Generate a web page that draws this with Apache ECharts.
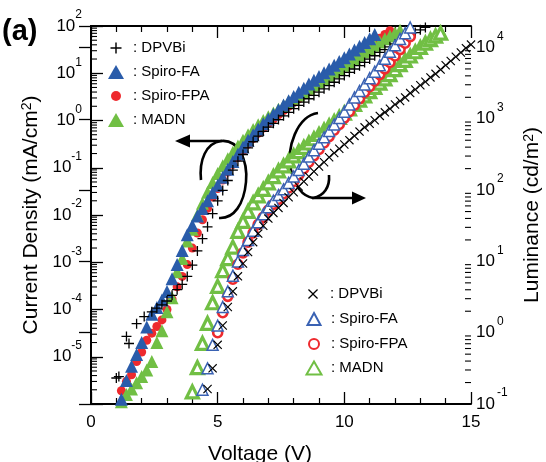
<!DOCTYPE html>
<html><head><meta charset="utf-8">
<script src="https://cdn.jsdelivr.net/npm/echarts@6/dist/echarts.min.js"></script>
<style>html,body{margin:0;padding:0;background:#fff}#c{width:546px;height:462px}</style>
</head><body><div id="c"></div>
<script>
// ---- data: [voltage (V), log10(value)] ----
// Current density (mA/cm^2), left axis
const J_DPVBi = [[1.0,-5.45],[1.1,-5.42],[1.4,-4.57],[1.5,-4.72],[1.8,-4.3],[2.1,-4.15],[2.4,-4.05],[2.6,-3.97],[2.8,-3.9],
 [3.0,-3.82],[3.2,-3.7],[3.4,-3.58],[3.6,-3.47],[3.8,-3.3],[4.0,-3.06],[4.2,-2.76],[4.4,-2.5],[4.6,-2.25],[4.8,-1.97],
 [5.0,-1.7],[5.2,-1.48],[5.4,-1.27],[5.6,-1.05],[5.8,-0.86],[6.0,-0.72],[6.2,-0.58],[6.4,-0.45],[6.6,-0.33],[6.8,-0.23],
 [7.0,-0.14],[7.2,-0.06],[7.4,0.02],[7.6,0.1],[7.8,0.17],[8.0,0.25],[8.2,0.32],[8.4,0.39],[8.6,0.46],[8.8,0.53],
 [9.0,0.6],[9.2,0.67],[9.4,0.74],[9.6,0.81],[9.8,0.88],[10.0,0.95],[10.2,1.02],[10.4,1.09],[10.6,1.16],[10.8,1.23],
 [11.0,1.3],[11.2,1.37],[11.4,1.44],[11.6,1.5],[11.8,1.56],[12.0,1.62],[12.2,1.68],[12.4,1.74],[12.6,1.8],[12.8,1.86],
 [13.0,1.92],[13.2,1.97]];
const J_SpiroFA = [[1.2,-5.9],[1.4,-5.5],[1.6,-5.2],[1.8,-4.95],[2.0,-4.7],[2.2,-4.37],[2.4,-4.1],[2.6,-3.96],[2.8,-3.8],
 [3.0,-3.62],[3.2,-3.35],[3.4,-3.05],[3.6,-2.75],[3.8,-2.42],[4.0,-2.22],[4.2,-2.02],[4.4,-1.86],[4.6,-1.7],[4.8,-1.53],
 [5.0,-1.37],[5.2,-1.2],[5.4,-1.03],[5.6,-0.87],[5.8,-0.71],[6.0,-0.56],[6.2,-0.42],[6.4,-0.3],[6.6,-0.18],[6.8,-0.07],
 [7.0,0.03],[7.2,0.13],[7.4,0.23],[7.6,0.33],[7.8,0.42],[8.0,0.51],[8.2,0.6],[8.4,0.68],[8.6,0.77],[8.8,0.85],
 [9.0,0.93],[9.2,1.01],[9.4,1.09],[9.6,1.17],[9.8,1.25],[10.0,1.33],[10.2,1.41],[10.4,1.49],[10.6,1.57],[10.8,1.65],
 [11.0,1.73],[11.2,1.82]];
const J_SpiroFPA = [[1.2,-5.72],[1.4,-5.52],[1.6,-5.38],[1.8,-5.1],[2.0,-4.9],[2.2,-4.65],[2.4,-4.5],[2.6,-4.36],[2.8,-4.22],
 [3.0,-4.0],[3.2,-3.78],[3.4,-3.52],[3.6,-3.3],[3.8,-3.05],[4.0,-2.7],[4.2,-2.38],[4.4,-2.1],[4.6,-1.86],[4.8,-1.62],
 [5.0,-1.44],[5.2,-1.26],[5.4,-1.09],[5.6,-0.93],[5.8,-0.78],[6.0,-0.64],[6.2,-0.5],[6.4,-0.38],[6.6,-0.27],[6.8,-0.16],
 [7.0,-0.06],[7.2,0.03],[7.4,0.12],[7.6,0.21],[7.8,0.3],[8.0,0.38],[8.2,0.46],[8.4,0.54],[8.6,0.62],[8.8,0.7],
 [9.0,0.78],[9.2,0.86],[9.4,0.94],[9.6,1.02],[9.8,1.1],[10.0,1.18],[10.2,1.26],[10.4,1.34],[10.6,1.42],[10.8,1.5],
 [11.0,1.58],[11.2,1.66],[11.4,1.74],[11.6,1.82],[11.8,1.9]];
const J_MADN = [[1.2,-5.95],[1.4,-5.8],[1.6,-5.68],[1.8,-5.55],[2.0,-5.42],[2.2,-5.28],[2.4,-5.1],[2.6,-4.7],[2.8,-4.45],
 [3.0,-4.05],[3.2,-3.75],[3.4,-3.2],[3.6,-2.92],[3.8,-2.55],[4.0,-2.3],[4.2,-2.0],[4.4,-1.75],[4.6,-1.52],[4.8,-1.31],
 [5.0,-1.12],[5.2,-0.96],[5.4,-0.81],[5.6,-0.67],[5.8,-0.54],[6.0,-0.42],[6.2,-0.3],[6.4,-0.19],[6.6,-0.09],[6.8,0.0],
 [7.0,0.08],[7.2,0.16],[7.4,0.24],[7.6,0.32],[7.8,0.4],[8.0,0.47],[8.2,0.54],[8.4,0.61],[8.6,0.68],[8.8,0.75],
 [9.0,0.82],[9.2,0.89],[9.4,0.96],[9.6,1.03],[9.8,1.1],[10.0,1.17],[10.2,1.24],[10.4,1.31],[10.6,1.38],[10.8,1.45],
 [11.0,1.52],[11.2,1.59],[11.4,1.66],[11.6,1.73],[11.8,1.79],[12.0,1.85],[12.2,1.91]];
// Luminance (cd/m^2), right axis
const L_DPVBi = [[4.6,-0.79],[4.8,-0.5],[5.0,-0.17],[5.2,0.1],[5.4,0.36],[5.6,0.58],[5.8,0.79],[6.0,0.97],[6.2,1.13],
 [6.4,1.27],[6.6,1.39],[6.8,1.5],[7.0,1.6],[7.2,1.68],[7.4,1.75],[7.6,1.82],[7.8,1.9],[8.0,1.97],[8.2,2.05],[8.4,2.12],
 [8.6,2.19],[8.8,2.26],[9.0,2.33],[9.2,2.39],[9.4,2.46],[9.6,2.52],[9.8,2.58],[10.0,2.64],[10.2,2.7],[10.4,2.76],
 [10.6,2.82],[10.8,2.88],[11.0,2.93],[11.2,2.98],[11.4,3.04],[11.6,3.09],[11.8,3.14],[12.0,3.2],[12.2,3.25],[12.4,3.3],
 [12.6,3.36],[12.8,3.41],[13.0,3.47],[13.2,3.52],[13.4,3.58],[13.6,3.63],[13.8,3.69],[14.0,3.75],[14.2,3.81],[14.4,3.87],
 [14.6,3.93],[14.8,3.99],[15.0,4.04]];
const L_SpiroFA = [[4.4,-0.8],[4.6,-0.5],[4.8,-0.17],[5.0,0.1],[5.2,0.36],[5.4,0.58],[5.6,0.8],[5.8,1.0],[6.0,1.16],
 [6.2,1.3],[6.4,1.43],[6.6,1.55],[6.8,1.66],[7.0,1.76],[7.2,1.85],[7.4,1.93],[7.6,2.01],[7.8,2.1],[8.0,2.19],[8.2,2.28],
 [8.4,2.37],[8.6,2.47],[8.8,2.56],[9.0,2.65],[9.2,2.74],[9.4,2.83],[9.6,2.92],[9.8,3.01],[10.0,3.1],[10.2,3.2],
 [10.4,3.3],[10.6,3.39],[10.8,3.48],[11.0,3.57],[11.2,3.66],[11.4,3.75],[11.6,3.84],[11.8,3.94],[12.0,4.03],[12.2,4.12],
 [12.4,4.2],[12.6,4.28]];
const L_SpiroFPA = [[5.0,0.0],[5.2,0.28],[5.4,0.51],[5.6,0.75],[5.8,0.96],[6.0,1.12],[6.2,1.27],[6.4,1.4],[6.6,1.52],
 [6.8,1.62],[7.0,1.72],[7.2,1.8],[7.4,1.87],[7.6,1.95],[7.8,2.03],[8.0,2.12],[8.2,2.21],[8.4,2.3],[8.6,2.39],[8.8,2.48],
 [9.0,2.57],[9.2,2.66],[9.4,2.75],[9.6,2.84],[9.8,2.92],[10.0,3.01],[10.2,3.1],[10.4,3.19],[10.6,3.28],[10.8,3.37],
 [11.0,3.45],[11.2,3.53],[11.4,3.62],[11.6,3.7],[11.8,3.79],[12.0,3.88],[12.2,3.97],[12.4,4.06],[12.6,4.15]];
const L_MADN = [[4.0,-0.83],[4.2,-0.49],[4.4,-0.15],[4.6,0.13],[4.8,0.42],[5.0,0.65],[5.2,0.87],[5.4,1.04],[5.6,1.2],
 [5.8,1.42],[6.0,1.56],[6.2,1.7],[6.4,1.82],[6.6,1.92],[6.8,2.01],[7.0,2.1],[7.2,2.19],[7.4,2.27],[7.6,2.34],[7.8,2.41],
 [8.0,2.48],[8.2,2.54],[8.4,2.6],[8.6,2.66],[8.8,2.72],[9.0,2.78],[9.2,2.84],[9.4,2.9],[9.6,2.96],[9.8,3.02],
 [10.0,3.08],[10.2,3.14],[10.4,3.2],[10.6,3.26],[10.8,3.32],[11.0,3.38],[11.2,3.44],[11.4,3.5],[11.6,3.56],[11.8,3.62],
 [12.0,3.69],[12.2,3.76],[12.4,3.82],[12.6,3.88],[12.8,3.94],[13.0,4.0],[13.2,4.06],[13.4,4.11],[13.6,4.16],[13.8,4.2]];

const materials = ['DPVBi', 'Spiro-FA', 'Spiro-FPA', 'MADN'];
const xTicks = [0, 5, 10, 15];
const jRange = [1e-6, 1e2];
const lRange = [1e-1, 2e4];

// ---- helpers ----
const toPts = arr => arr.map(p => [p[0], Math.pow(10, p[1])]);
const FONT = '"Liberation Sans", Arial, Helvetica, sans-serif';
const PLUS = 'path://M4.35,0H5.65V4.35H10V5.65H5.65V10H4.35V5.65H0V4.35H4.35Z';
const CROSS = 'path://M0,0.9L0.9,0L5,4.1L9.1,0L10,0.9L5.9,5L10,9.1L9.1,10L5,5.9L0.9,10L0,9.1L4.1,5Z';
const BLUE = '#2a5caa', RED = '#ee2a2e', GREEN = '#71bf44';

function minorVals(lo, hi) {
  const out = [];
  for (let e = Math.floor(Math.log10(lo)); e < Math.ceil(Math.log10(hi)); e++) {
    for (let k = 2; k <= 9; k++) { const v = k * Math.pow(10, e); if (v > lo && v < hi) out.push(v); }
  }
  return out;
}
const rich = {
  b: {fontSize: 17, lineHeight: 34, fontFamily: FONT, color: '#000'},
  s: {fontSize: 12, lineHeight: 12, verticalAlign: 'top', fontFamily: FONT, color: '#000'},
  s2: {fontSize: 12, lineHeight: 12, verticalAlign: 'top', fontFamily: FONT, color: '#000', padding: [0, 0, 0, 2]}
};
function powLabel(v, skip, sty) {
  const e = Math.log10(v), n = Math.round(e);
  if (Math.abs(e - n) > 1e-6 || n === skip) return '';
  return '{b|10}{' + sty + '|' + n + '}';
}
const blackLine = {lineStyle: {color: '#000', width: 2}};
const stroke = {stroke: '#000', lineWidth: 2.6, fill: null};
const bez = (x1, y1, cx1, cy1, cx2, cy2, x2, y2) =>
  ({type: 'bezierCurve', shape: {x1, y1, cpx1: cx1, cpy1: cy1, cpx2: cx2, cpy2: cy2, x2, y2}, style: stroke});

// one legend per entry so each icon can have its own size
function legendItem(name, cx, cy, w, h, textX) {
  const rowH = 16, left = cx - w / 2;
  return {data: [name], orient: 'vertical', padding: 0, left: left, top: cy - rowH / 2,
    itemWidth: w, itemHeight: h, selectedMode: false, formatter: n => ': ' + n.split('|')[1],
    textStyle: {fontSize: 15, lineHeight: rowH, color: '#000', fontFamily: FONT,
      padding: [0, 0, 0, Math.max(0, textX - (left + w + 5))]}};
}
const legends = [
  legendItem('J|DPVBi', 116, 48, 11, 11, 133),
  legendItem('J|Spiro-FA', 116, 72, 16, 14, 133),
  legendItem('J|Spiro-FPA', 116, 96, 10, 10, 133),
  legendItem('J|MADN', 116, 120, 16, 14, 133),
  legendItem('L|DPVBi', 313, 294, 10, 10, 330),
  legendItem('L|Spiro-FA', 313, 319, 13, 12, 330),
  legendItem('L|Spiro-FPA', 313, 344, 10, 10, 330),
  legendItem('L|MADN', 313, 368, 15, 13, 330)
];

const chart = echarts.init(document.getElementById('c'), null, {renderer: 'canvas'});
chart.setOption({
  animation: false,
  backgroundColor: '#fff',
  textStyle: {fontFamily: FONT},
  grid: {left: 91, right: 75, top: 26, bottom: 58, containLabel: false, outerBoundsMode: 'none'},
  legend: legends,
  xAxis: [
    {type: 'value', min: xTicks[0], max: xTicks[xTicks.length - 1], interval: 5, position: 'bottom',
     name: 'Voltage (V)', nameLocation: 'middle', nameGap: 40,
     nameTextStyle: {fontSize: 21, color: '#000', fontFamily: FONT, padding: [0, 42, 0, 0]},
     axisLine: blackLine, splitLine: {show: false},
     axisTick: {inside: true, length: 12, lineStyle: {color: '#000', width: 1.3}},
     minorTick: {show: true, splitNumber: 5, length: 6, lineStyle: {color: '#000', width: 1.2}},
     axisLabel: {fontSize: 17, color: '#000', margin: 10, fontFamily: FONT}},
    {type: 'value', min: 0, max: 15, interval: 5, position: 'top',
     axisLine: blackLine, splitLine: {show: false},
     axisTick: {inside: true, length: 12, lineStyle: {color: '#000', width: 1.3}},
     minorTick: {show: true, splitNumber: 5, length: 6, lineStyle: {color: '#000', width: 1.2}},
     axisLabel: {show: false}}
  ],
  yAxis: [
    {type: 'log', min: jRange[0], max: jRange[1], position: 'left',
     name: 'Current Density (mA/cm{s|2})', nameLocation: 'middle', nameGap: 47, nameRotate: 90,
     nameTextStyle: {fontSize: 21, color: '#000', fontFamily: FONT,
       rich: {s: {fontSize: 14, verticalAlign: 'top', lineHeight: 12, fontFamily: FONT, color: '#000'}}},
     axisLine: blackLine, splitLine: {show: false},
     axisTick: {inside: true, length: 12, lineStyle: {color: '#000', width: 1.3}},
     axisLabel: {margin: 9, formatter: v => powLabel(v, -6, 's'), rich: rich}},
    {type: 'log', min: lRange[0], max: lRange[1], position: 'right',
     name: 'Luminance (cd/m{s|2})', nameLocation: 'middle', nameGap: 51, nameRotate: 90,
     nameTextStyle: {fontSize: 21, color: '#000', fontFamily: FONT,
       rich: {s: {fontSize: 14, verticalAlign: 'top', lineHeight: 12, fontFamily: FONT, color: '#000'}}},
     axisLine: blackLine, splitLine: {show: false},
     axisTick: {inside: true, length: 12, lineStyle: {color: '#000', width: 1.3}},
     axisLabel: {margin: 5, formatter: v => powLabel(v, null, 's2'), rich: rich}}
  ],
  series: [
    {name: 'J|Spiro-FPA', type: 'scatter', yAxisIndex: 0, data: toPts(J_SpiroFPA), symbol: 'circle', symbolSize: 9,
     itemStyle: {color: RED, opacity: 1}},
    {name: 'J|MADN', type: 'scatter', yAxisIndex: 0, data: toPts(J_MADN), symbol: 'triangle', symbolSize: 13,
     itemStyle: {color: GREEN, opacity: 1}},
    {name: 'J|Spiro-FA', type: 'scatter', yAxisIndex: 0, data: toPts(J_SpiroFA), symbol: 'triangle', symbolSize: 13,
     itemStyle: {color: BLUE, opacity: 1}},
    {name: 'J|DPVBi', type: 'scatter', yAxisIndex: 0, data: toPts(J_DPVBi), symbol: PLUS, symbolSize: 10,
     itemStyle: {color: '#000', opacity: 1}},
    {name: 'L|MADN', type: 'scatter', yAxisIndex: 1, data: toPts(L_MADN), symbol: 'triangle', symbolSize: 12,
     itemStyle: {color: '#fff', borderColor: GREEN, borderWidth: 3.2, opacity: 1}},
    {name: 'L|Spiro-FPA', type: 'scatter', yAxisIndex: 1, data: toPts(L_SpiroFPA), symbol: 'circle', symbolSize: 9,
     itemStyle: {color: '#fff', borderColor: RED, borderWidth: 2.6, opacity: 1}},
    {name: 'L|Spiro-FA', type: 'scatter', yAxisIndex: 1, data: toPts(L_SpiroFA), symbol: 'triangle', symbolSize: 11,
     itemStyle: {color: '#fff', borderColor: '#3a62b3', borderWidth: 1.5, opacity: 1}},
    {name: 'L|DPVBi', type: 'scatter', yAxisIndex: 1, data: toPts(L_DPVBi), symbol: CROSS, symbolSize: 9,
     itemStyle: {color: '#000', opacity: 1}},
    {type: 'custom', yAxisIndex: 0, silent: true, data: minorVals(jRange[0], jRange[1]).map(v => [0, v]),
     renderItem: (p, api) => { const c = api.coord([api.value(0), api.value(1)]);
       return {type: 'line', shape: {x1: c[0], y1: c[1], x2: c[0] + 6, y2: c[1]}, style: {stroke: '#000', lineWidth: 1.1}}; }},
    {type: 'custom', yAxisIndex: 1, silent: true, data: minorVals(lRange[0], lRange[1]).map(v => [15, v]),
     renderItem: (p, api) => { const c = api.coord([api.value(0), api.value(1)]);
       return {type: 'line', shape: {x1: c[0], y1: c[1], x2: c[0] - 6, y2: c[1]}, style: {stroke: '#000', lineWidth: 1.1}}; }}
  ],
  graphic: [
    {type: 'text', left: 2, top: 17, style: {text: '(a)', fontSize: 29, fontWeight: 'bold', fontFamily: FONT, fill: '#000'}},
    // loop + arrow toward the left axis
    bez(201, 180, 199, 160, 206, 143, 221, 141),
    bez(221, 141, 238, 139, 248, 160, 246, 182),
    bez(246, 182, 244, 204, 234, 219, 219, 218),
    {type: 'line', shape: {x1: 222, y1: 141, x2: 186, y2: 141}, style: {stroke: '#000', lineWidth: 2.6}},
    {type: 'polygon', shape: {points: [[175, 141], [190, 134.5], [190, 147.5]]}, style: {fill: '#000'}},
    // loop + arrow toward the right axis
    bez(318, 113, 297, 116, 286, 148, 291, 170),
    bez(291, 170, 295, 187, 302, 196, 313, 198),
    bez(329, 175, 330, 187, 324, 196, 313, 198),
    {type: 'line', shape: {x1: 312, y1: 198, x2: 355, y2: 198}, style: {stroke: '#000', lineWidth: 2.6}},
    {type: 'polygon', shape: {points: [[366, 198], [352, 191.5], [352, 204.5]]}, style: {fill: '#000'}}
  ]
});
</script>
</body></html>
